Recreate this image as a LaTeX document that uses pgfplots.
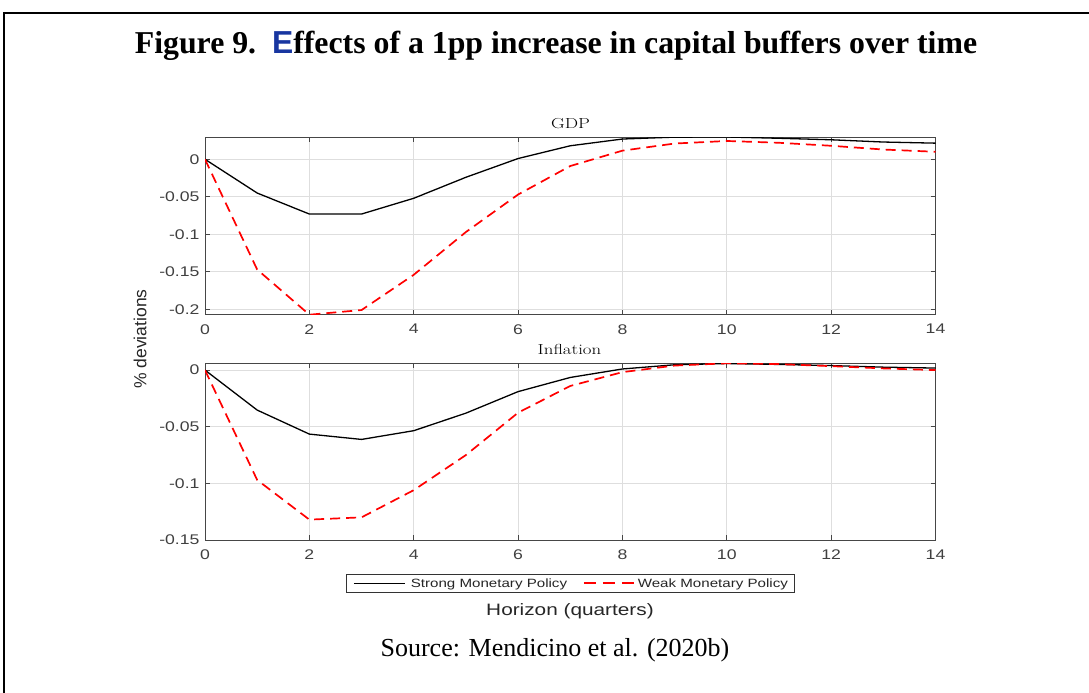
\documentclass[border=0pt]{standalone}
\usepackage{pgfplots}
\pgfplotsset{compat=1.18}
\usepackage{fontspec}
\newfontfamily\mlfont[FakeStretch=1.26]{Liberation Sans}
\newfontfamily\ylfont{Liberation Sans}
\newfontfamily\cmfont[FakeStretch=1.3]{Latin Modern Roman}
\newfontfamily\tfont{Liberation Serif}
\newfontfamily\afont{Liberation Sans}
\definecolor{eblue}{RGB}{24,54,160}
\definecolor{tickgray}{RGB}{64,64,64}
\definecolor{axgray}{RGB}{70,70,70}
\definecolor{gridgray}{RGB}{222,222,222}
\definecolor{mlred}{RGB}{255,0,0}
\definecolor{legtext}{RGB}{38,38,38}

\pgfplotsset{
  mlaxis/.style={
    scale only axis,
    width=730.5pt,
    xmin=0, xmax=14,
    xtick={0,2,4,6,8,10,12,14},
    xticklabels={0,2,4,6,8,10,12,14},
    grid=major,
    grid style={gridgray, line width=0.7pt},
    axis line style={axgray, line width=0.8pt},
    tick style={axgray, line width=0.8pt},
    tick align=inside,
    major tick length=5pt,
    ticklabel style={font=\mlfont\fontsize{14}{15}\selectfont, text=tickgray},
    xticklabel style={yshift=-6pt},
    yticklabel style={xshift=-2pt},
  },
  strong/.style={draw=black, line width=1.3pt},
  weak/.style={draw=mlred, line width=1.7pt, dash pattern=on 10pt off 6pt},
}

\begin{document}
\begin{tikzpicture}
\path[use as bounding box] (0pt,0pt) rectangle (1089pt,-693pt);
\draw[line width=2pt] (4pt,-693pt) -- (4pt,-13pt) -- (1089pt,-13pt);

\node[anchor=base] at (556pt,-53pt) {\tfont\bfseries\fontsize{31.8}{36}\selectfont Figure 9.\ \ {\afont\bfseries\color{eblue}E}ffects of a 1pp increase in capital buffers over time};

% GDP panel
\begin{axis}[mlaxis,
  at={(205pt,-314.7pt)}, anchor=south west,
  height=177.7pt,
  ymin=-0.2072, ymax=0.0297,
  ytick={-0.2,-0.15,-0.1,-0.05,0},
  yticklabels={-0.2,-0.15,-0.1,-0.05,0},
]
\addplot[strong] coordinates {(0,0) (1,-0.045) (2,-0.073) (3,-0.073) (4,-0.052) (5,-0.024) (6,0.001) (7,0.018) (8,0.027) (9,0.0295) (10,0.0297) (11,0.028) (12,0.026) (13,0.023) (14,0.0215)};
\addplot[weak] coordinates {(0,0) (1,-0.147) (2,-0.2072) (3,-0.201) (4,-0.154) (5,-0.097) (6,-0.047) (7,-0.009) (8,0.0115) (9,0.021) (10,0.0244) (11,0.022) (12,0.018) (13,0.013) (14,0.010)};
\end{axis}

% Inflation panel
\begin{axis}[mlaxis,
  at={(205pt,-540pt)}, anchor=south west,
  height=176.7pt,
  ymin=-0.15, ymax=0.006,
  ytick={-0.15,-0.1,-0.05,0},
  yticklabels={-0.15,-0.1,-0.05,0},
  legend columns=2,
  legend image code/.code={\path (0pt,0pt) -- (0pt,0pt);},
  legend style={at={(0.5,-0.246)}, anchor=center,
    draw=black!80, line width=0.7pt,
    font=\mlfont\fontsize{12}{13}\selectfont, text=legtext,
    inner xsep=6pt, inner ysep=2.5pt,
    nodes={inner xsep=0.5pt, inner ysep=1.5pt},
    /tikz/column 2/.style={column sep=14pt}},
]
\addplot[strong] coordinates {(0,0) (1,-0.0353) (2,-0.0565) (3,-0.0612) (4,-0.0535) (5,-0.038) (6,-0.019) (7,-0.0065) (8,0.001) (9,0.0047) (10,0.0058) (11,0.005) (12,0.004) (13,0.0026) (14,0.0018)};
\addlegendentry{\textcolor{black}{\rule[3pt]{51pt}{1.3pt}}\hspace{6pt}Strong Monetary Policy}
\addplot[weak] coordinates {(0,0) (1,-0.097) (2,-0.132) (3,-0.130) (4,-0.106) (5,-0.075) (6,-0.0376) (7,-0.014) (8,-0.0018) (9,0.004) (10,0.006) (11,0.0053) (12,0.0035) (13,0.0015) (14,0.0)};
\addlegendentry{\textcolor{mlred}{\rule[3pt]{12pt}{1.7pt}\hspace{7pt}\rule[3pt]{12pt}{1.7pt}\hspace{7pt}\rule[3pt]{12pt}{1.7pt}}\hspace{4pt}Weak Monetary Policy}
\end{axis}

\node at (570.5pt,-123.3pt) {\cmfont\fontsize{14.5}{16}\selectfont GDP};
\node at (569.5pt,-349.7pt) {\cmfont\fontsize{14.5}{16}\selectfont Inflation};
\node[rotate=90] at (140pt,-339pt) {\ylfont\fontsize{17.5}{19}\selectfont\color{black!85}\% deviations};
\node at (570pt,-611pt) {\mlfont\fontsize{16.5}{18}\selectfont\color{black!85}Horizon (quarters)};
\node[anchor=base] at (555pt,-656.7pt) {\tfont\fontsize{26}{30}\selectfont Source: Mendicino et al. (2020b)};
\end{tikzpicture}
\end{document}
